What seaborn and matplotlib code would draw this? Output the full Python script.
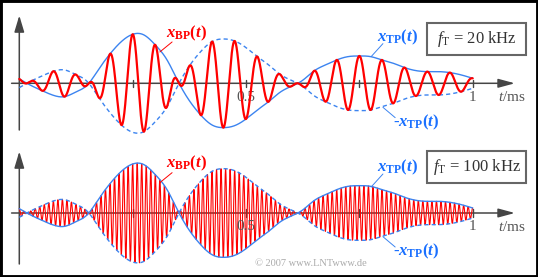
import numpy as np
import pandas as pd
import matplotlib
matplotlib.use("Agg")
import matplotlib.pyplot as plt
from matplotlib.patches import Rectangle
import seaborn as sns

# ---------------- data ----------------
t_samples_ms = np.linspace(0.0, 1.0, 41)          # every 0.025 ms
x_tp_samples = [13, -6, -22, -36, -40, -26, -5, 42, 88, 125, 147, 145, 115, 72,
                6, -52, -95, -125, -133, -127, -107, -80, -55, -27, -9, 9, 37,
                55, 70, 80, 82, 80, 70, 60, 47, 38, 35, 35, 32, 25, 15]
carrier_khz = [20, 100]
box_labels = ["20 kHz", "100 kHz"]
tick_positions = [0.25, 0.5, 0.75, 1.0]
tick_labels = {0.5: "0.5", 1.0: "1"}

# ---------------- style ----------------
sns.set_theme(style="white")
plt.rcParams["font.family"] = ["Liberation Serif", "DejaVu Serif"]
plt.rcParams["mathtext.fontset"] = "custom"
plt.rcParams["mathtext.rm"] = "Liberation Serif"
plt.rcParams["mathtext.it"] = "Liberation Serif:italic"
plt.rcParams["mathtext.bf"] = "Liberation Serif:bold"
try:
    plt.rcParams["mathtext.bfit"] = "Liberation Serif:bold:italic"
except KeyError:
    pass

RED = "#ff0000"
BLUE = "#3c84f0"
BLUE_TXT = "#1a70ff"
AXC = "#454545"


def spline(x, y, xn):
    x = np.asarray(x, float); y = np.asarray(y, float)
    n = len(x); h = np.diff(x)
    A = np.zeros((n, n)); r = np.zeros(n)
    A[0, 0] = A[-1, -1] = 1
    for i in range(1, n - 1):
        A[i, i - 1] = h[i - 1]; A[i, i] = 2 * (h[i - 1] + h[i]); A[i, i + 1] = h[i]
        r[i] = 3 * ((y[i + 1] - y[i]) / h[i] - (y[i] - y[i - 1]) / h[i - 1])
    c = np.linalg.solve(A, r)
    b = (y[1:] - y[:-1]) / h - h * (2 * c[:-1] + c[1:]) / 3
    d = (c[1:] - c[:-1]) / (3 * h)
    idx = np.clip(np.searchsorted(x, xn) - 1, 0, n - 2)
    dx = xn - x[idx]
    return y[idx] + b[idx] * dx + c[idx] * dx ** 2 + d[idx] * dx ** 3


W, H = 538, 277
fig = plt.figure(figsize=(W / 100, H / 100), dpi=100)
fig.patch.set_facecolor("white")

t = np.linspace(0, 1, 20001)
env = spline(t_samples_ms, x_tp_samples, t)

PX0, PXS = 19.3, 453.4          # pixel of t=0, pixels per ms
xlim = (-PX0 / PXS, (W - PX0) / PXS)

# (region top row, region bottom row, axis row) in pixels
panels = [(0, 138, 83.3), (138, 277, 213.0)]

for k, (r0, r1, ra) in enumerate(panels):
    ax = fig.add_axes([0, 1 - r1 / H, 1, (r1 - r0) / H])
    ax.set_xlim(*xlim)
    ax.set_ylim(-(r1 - ra) * 3, (ra - r0) * 3)
    ax.axis("off")

    df = pd.DataFrame({"t": t, "tp": env, "ntp": -env,
                       "bp": env * np.cos(2 * np.pi * carrier_khz[k] * t)})

    # axes
    ax.annotate("", xy=(1.093, 0), xytext=(-0.017, 0),
                arrowprops=dict(arrowstyle="-|>,head_length=1.0,head_width=0.27",
                                color=AXC, lw=1.1, mutation_scale=10,
                                shrinkA=0, shrinkB=0), zorder=1)
    y_bot = -(130 - 83.3) * 3 if k == 0 else -(264 - 213) * 3
    y_top = (83.3 - 15.5) * 3 if k == 0 else (213 - 151.5) * 3
    ax.annotate("", xy=(0, y_top), xytext=(0, y_bot),
                arrowprops=dict(arrowstyle="-|>,head_length=1.0,head_width=0.3",
                                color=AXC, lw=1.1, mutation_scale=10,
                                shrinkA=0, shrinkB=0), zorder=1)
    for tp in tick_positions:
        ax.plot([tp, tp], [-11, 11], color=AXC, lw=1.0, zorder=1)
        if tp in tick_labels:
            ax.text(tp, -42, tick_labels[tp], ha="center", va="center",
                    fontsize=11, color="#555555")
    ax.text(1.086, -42, r"$\mathit{t}$/ms", ha="center", va="center",
            fontsize=11, color="#555555")

    if k == 0:
        sns.lineplot(data=df, x="t", y="tp", ax=ax, color=BLUE, lw=1.0,
                     estimator=None, sort=False, zorder=2)
        sns.lineplot(data=df, x="t", y="ntp", ax=ax, color=BLUE, lw=1.0,
                     estimator=None, sort=False, zorder=2, linestyle=(0, (3, 2.2)))
        sns.lineplot(data=df, x="t", y="bp", ax=ax, color=RED, lw=1.6,
                     estimator=None, sort=False, zorder=3)
    else:
        sns.lineplot(data=df, x="t", y="bp", ax=ax, color=RED, lw=0.8,
                     estimator=None, sort=False, zorder=2)
        sns.lineplot(data=df, x="t", y="tp", ax=ax, color=BLUE, lw=1.0,
                     estimator=None, sort=False, zorder=3)
        sns.lineplot(data=df, x="t", y="ntp", ax=ax, color=BLUE, lw=1.0,
                     estimator=None, sort=False, zorder=3, linestyle=(0, (3, 2.2)))
    ax.set_xlim(*xlim)
    ax.set_ylim(-(r1 - ra) * 3, (ra - r0) * 3)

    # labels + leader lines
    base_bp = 139 if k == 0 else 136
    base_tp = 127 if k == 0 else 125
    base_ntp = -128 if k == 0 else -127
    ax.text(0.369, base_bp, r"$\mathbfit{x}_{\mathbf{BP}}\mathbf{(}\mathbfit{t}\mathbf{)}$",
            ha="center", va="baseline", fontsize=12, color=RED, zorder=5)
    ax.plot([0.337, 0.310], [base_bp - 15, base_bp - 45], color=RED, lw=0.7, zorder=4)
    ax.text(0.835, base_tp, r"$\mathbfit{x}_{\mathbf{TP}}\mathbf{(}\mathbfit{t}\mathbf{)}$",
            ha="center", va="baseline", fontsize=12, color=BLUE_TXT, zorder=5)
    ax.plot([0.802, 0.776], [base_tp - 8, base_tp - 47], color=BLUE, lw=0.7, zorder=4)
    ax.text(0.875, base_ntp, r"-$\mathbfit{x}_{\mathbf{TP}}\mathbf{(}\mathbfit{t}\mathbf{)}$",
            ha="center", va="baseline", fontsize=12, color=BLUE_TXT,
            fontweight="bold", zorder=5)
    ax.plot([0.829, 0.802], [base_ntp + 25, base_ntp + 56], color=BLUE, lw=0.7, zorder=4)

    # f_T box
    btop = (ra - (23 if k == 0 else 150.7)) * 3
    bbot = (ra - (54.5 if k == 0 else 182.7)) * 3
    x0 = (427.5 - PX0) / PXS
    x1 = (526.5 - PX0) / PXS
    ax.add_patch(Rectangle((x0, bbot), x1 - x0, btop - bbot, fc="white",
                           ec="#666666", lw=1.5, zorder=4))
    ax.text((x0 + x1) / 2, (btop + bbot) / 2 - 2,
            r"$\mathit{f}_{\mathrm{T}}$ = " + box_labels[k],
            ha="center", va="center", fontsize=12, color="#333333", zorder=5)

fig.text(255 / W, 1 - 263 / H, "© 2007 www.LNTwww.de", ha="left", va="center",
         fontsize=7.5, color="#aaaaaa")
fig.add_artist(Rectangle((0, 0), 1, 1, transform=fig.transFigure, fill=False,
                         ec="black", lw=3.5))

fig.savefig("out.png", dpi=100)
